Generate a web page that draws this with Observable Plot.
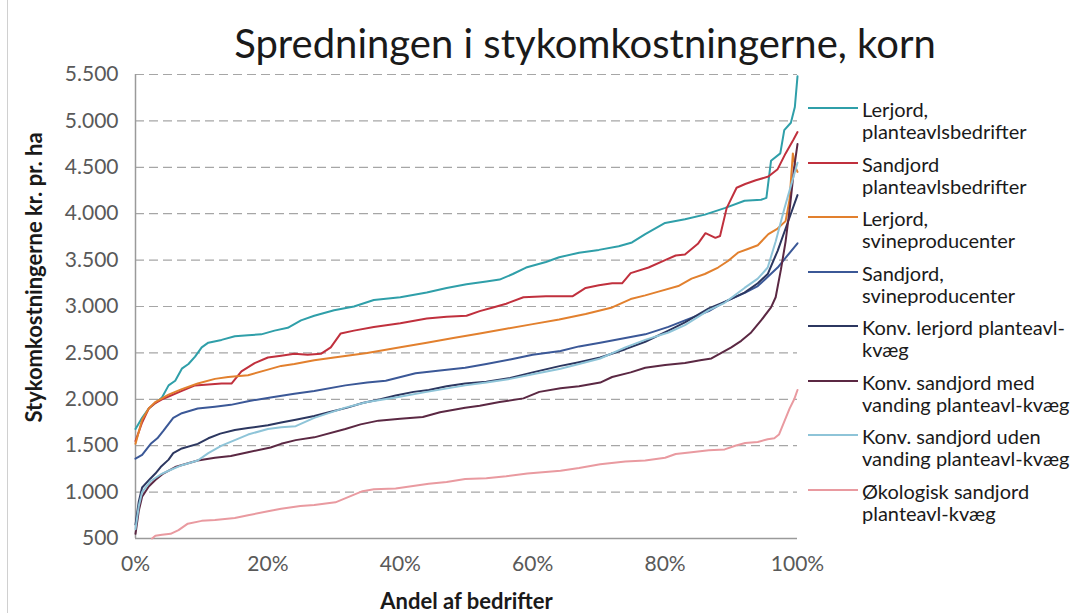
<!DOCTYPE html>
<html>
<head>
<meta charset="utf-8">
<script src="https://cdn.jsdelivr.net/npm/d3@7"></script>
<script src="https://cdn.jsdelivr.net/npm/@observablehq/plot@0.6"></script>
<style>
  html, body { margin: 0; padding: 0; background: #fff; }
  #wrap { position: relative; width: 1075px; height: 613px; overflow: hidden; font-family: Lato, "Open Sans", sans-serif; }
  #frame { position: absolute; left: 7px; top: 0; width: 1px; height: 613px; background: #d0d0d0; }
  #title { position: absolute; left: 85px; width: 1000px; top: 20px; text-align: center; font-size: 40px; line-height: 46px; color: #1a1a1a; white-space: nowrap; }
  #chart { position: absolute; left: 0; top: 62px; }
  #chart svg { overflow: visible; background: transparent; }
  #legend { position: absolute; left: 808px; top: 98px; color: #1a1a1a; }
  .entry { display: flex; align-items: flex-start; height: 54.5px; }
  .swatch { width: 50px; height: 2px; margin-top: 9px; margin-right: 4px; flex: none; }
  .lab { font-size: 20px; line-height: 22px; white-space: pre; }
</style>
</head>
<body>
<div id="wrap">
  <div id="frame"></div>
  <div id="title"></div>
  <div id="chart"></div>
  <div id="legend"></div>
</div>
<script>
// ---- text ----
const titleText = "Spredningen i stykomkostningerne, korn";
const xLabel = "Andel af bedrifter";
const yLabel = "Stykomkostningerne kr. pr. ha";

// ---- series names (legend labels) ----
const seriesNames = [
  "Lerjord,\nplanteavlsbedrifter",
  "Sandjord\nplanteavlsbedrifter",
  "Lerjord,\nsvineproducenter",
  "Sandjord,\nsvineproducenter",
  "Konv. lerjord planteavl-\nkvæg",
  "Konv. sandjord med\nvanding planteavl-kvæg",
  "Konv. sandjord uden\nvanding planteavl-kvæg",
  "Økologisk sandjord\nplanteavl-kvæg"
];
const seriesColors = ["#2f9fa9", "#c0303d", "#e2802e", "#3b5897", "#2c3760", "#5b2843", "#8ec4d8", "#e99aa0"];

// ---- tick values ----
const xTicks = [0, 20, 40, 60, 80, 100];
const yTicks = [500, 1000, 1500, 2000, 2500, 3000, 3500, 4000, 4500, 5000, 5500];

// ---- data: share of farms (%) and costs (kr. pr. ha) ----
const lerPlanteX = [0,1,2,3,4,5,6,7,8,9,10,11,13,15,17,19,21,23,25,27,30,33,36,40,44,47,50,53,55,57,59,62,64,67,70,73,75,77,80,83,86,89,92,94.5,95.3,96,97.4,98,99,99.6,100];
const lerPlanteY = [1680,1800,1900,1960,2020,2150,2200,2330,2380,2460,2560,2610,2640,2680,2690,2700,2740,2770,2850,2900,2960,3000,3070,3100,3150,3200,3240,3270,3290,3350,3420,3480,3530,3580,3610,3650,3690,3780,3900,3940,3990,4060,4140,4150,4170,4570,4650,4900,4980,5150,5480];

const sandPlanteX = [0,1,2,3,4,5,7,9,11,13,14.5,16,18,20,22,24,26,28,29.5,31,33,36,40,44,47,50,52,54,56,58.6,62,66,68,70,72,73.5,74.8,77.5,80,81.6,83,85,86.1,87.6,88.3,89.3,90.8,92.1,93.7,95.6,97,98.2,99.4,100];
const sandPlanteY = [1550,1750,1900,1960,2000,2030,2090,2150,2160,2170,2170,2300,2390,2450,2470,2490,2480,2490,2560,2710,2740,2780,2820,2870,2890,2900,2950,2990,3030,3100,3110,3110,3200,3230,3250,3250,3360,3420,3500,3550,3560,3680,3790,3740,3760,4060,4280,4320,4360,4400,4480,4650,4800,4880];

const lerSvinX = [0,1,2,3,5,7,9.4,12,14,17,20,22,24,27,30,35,40,44,48,52,56,60,64,68,72,74.8,77,79,82,84,86,88,89.5,91,92.5,94,95.6,97,98.2,98.8,99.3,99.7,100];
const lerSvinY = [1520,1780,1900,1970,2050,2110,2170,2220,2240,2260,2320,2360,2380,2420,2450,2500,2560,2610,2660,2710,2760,2810,2860,2920,2990,3080,3120,3160,3220,3300,3350,3420,3490,3580,3620,3660,3780,3840,3920,4150,4650,4500,4450];

const sandSvinX = [0,1,2.3,3.3,4.2,5.7,7,9.4,12,14.4,17,20.4,24,27,31.7,35,37.8,42.3,46,49.8,53,56.6,60,64.2,67,70.2,74,77,80.5,83,86.6,89,92.1,94,95.2,97,98.5,100];
const sandSvinY = [1360,1400,1520,1580,1660,1800,1850,1900,1920,1940,1980,2020,2060,2090,2150,2180,2200,2280,2310,2340,2380,2430,2480,2520,2570,2610,2660,2700,2780,2850,2950,3050,3150,3220,3300,3420,3550,3680];

const konvLerX = [0,0.5,1,2.3,3,3.8,5,5.7,7,9.4,11,12.8,15,17,20,22,24.2,27,29.2,32,34.3,37,39.3,42,44.3,47,49.8,53,56.6,60,64.2,67,70.2,74,77,80.5,83,86.6,89,92,94,95.5,97,98.5,100];
const konvLerY = [650,900,1050,1150,1200,1270,1350,1420,1470,1520,1580,1630,1670,1690,1720,1750,1780,1820,1860,1910,1960,2000,2040,2080,2100,2140,2170,2190,2230,2290,2360,2400,2450,2540,2620,2740,2830,2980,3050,3150,3250,3350,3600,3900,4200];

const konvSandMedX = [0,0.5,1,2,3,4.2,6,9.4,12,14.4,17,20.4,22,24.2,27,31.7,34,36.7,40,43.4,46,49.8,52,55,58.6,61,64.2,67,70.2,72,74.8,77,80,83,85.3,87,88.5,90,91.5,93,94.5,96,96.7,97.5,98.2,98.9,99.5,100];
const konvSandMedY = [550,800,950,1060,1130,1200,1270,1340,1370,1390,1430,1480,1520,1560,1590,1680,1730,1770,1790,1810,1860,1910,1930,1970,2010,2080,2120,2140,2180,2240,2290,2340,2370,2390,2420,2440,2500,2560,2630,2720,2850,2990,3100,3400,3700,4100,4500,4750];

const konvSandUdenX = [0,0.5,1,2.3,3.8,5,7,9.4,11,13,15,17,20,22,24.2,27,31.7,35,39.3,44,49.8,53,56.6,60,64.2,67,70.2,74,77,80.5,83,86.6,89,92,94,95.5,96.7,98,99,100];
const konvSandUdenY = [600,850,1000,1120,1190,1230,1290,1340,1420,1500,1560,1620,1680,1700,1710,1800,1910,1970,2020,2080,2150,2180,2220,2270,2330,2380,2440,2560,2640,2720,2800,2960,3040,3200,3300,3420,3700,4050,4300,4550];

const oekoX = [2.5,3,4,5.3,6.5,7.9,10,12,15,17,20.4,22,24.9,27,30.2,34.3,36,39.3,44.3,47,49.8,53,56,59.2,64.2,67,70.2,74,77,80,81.6,84,86.6,89,90.6,92.1,94,95.5,96.5,97.2,98,98.8,99.5,100];
const oekoY = [500,530,540,550,590,660,690,700,720,750,800,820,850,860,890,1010,1030,1040,1090,1110,1140,1150,1170,1200,1230,1260,1300,1330,1340,1370,1410,1430,1450,1460,1500,1530,1540,1570,1580,1620,1760,1900,2000,2100];

const seriesX = [lerPlanteX, sandPlanteX, lerSvinX, sandSvinX, konvLerX, konvSandMedX, konvSandUdenX, oekoX];
const seriesY = [lerPlanteY, sandPlanteY, lerSvinY, sandSvinY, konvLerY, konvSandMedY, konvSandUdenY, oekoY];

// ---- build table ----
const rows = seriesNames.flatMap((name, i) =>
  seriesX[i].map((x, j) => ({series: name, x, y: seriesY[i][j]})));

const daLocale = d3.formatLocale({decimal: ",", thousands: ".", grouping: [3], currency: ["", "kr."]});
const fmtY = daLocale.format(",");
const fmtX = d => d + "%";

document.getElementById("title").textContent = titleText;

const tickFont = {fontSize: 21, fill: "#595959"};

const chart = Plot.plot({
  width: 805,
  height: 551,
  marginTop: 12,
  marginLeft: 135,
  marginRight: 8,
  marginBottom: 75,
  style: {fontFamily: "Lato, 'Open Sans', sans-serif", background: "transparent", overflow: "visible"},
  x: {domain: [0, 100], label: null},
  y: {domain: [500, 5500], label: null},
  color: {domain: seriesNames, range: seriesColors},
  marks: [
    Plot.gridY(yTicks.filter(d => d > 500), {stroke: "#a6a6a6", strokeOpacity: 1, strokeDasharray: "9,5", strokeWidth: 1.2}),
    Plot.ruleY([500], {stroke: "#9a9a9a", strokeWidth: 1.5}),
    Plot.ruleX([0], {stroke: "#9a9a9a", strokeWidth: 1.5}),
    Plot.line(rows, {x: "x", y: "y", z: "series", stroke: "series", strokeWidth: 2, curve: "linear"}),
    Plot.axisY(yTicks, {tickSize: 0, tickPadding: 17, tickFormat: fmtY, ...tickFont, label: null}),
    Plot.axisX(xTicks, {tickSize: 0, tickPadding: 18, tickFormat: fmtX, ...tickFont, label: null}),
    Plot.text([xLabel], {frameAnchor: "bottom", dy: 63, textAnchor: "middle", lineAnchor: "middle", fontSize: 22, fontWeight: "bold", fill: "#1a1a1a"}),
    Plot.text([yLabel], {frameAnchor: "left", rotate: -90, dx: -101, dy: -29, textAnchor: "middle", lineAnchor: "middle", fontSize: 22, fontWeight: "bold", fill: "#1a1a1a"})
  ]
});
document.getElementById("chart").appendChild(chart);

// ---- legend ----
const legend = document.getElementById("legend");
seriesNames.forEach((name, i) => {
  const e = document.createElement("div");
  e.className = "entry";
  const s = document.createElement("div");
  s.className = "swatch";
  s.style.background = seriesColors[i];
  const t = document.createElement("div");
  t.className = "lab";
  t.textContent = name;
  e.appendChild(s);
  e.appendChild(t);
  legend.appendChild(e);
});
</script>
</body>
</html>
